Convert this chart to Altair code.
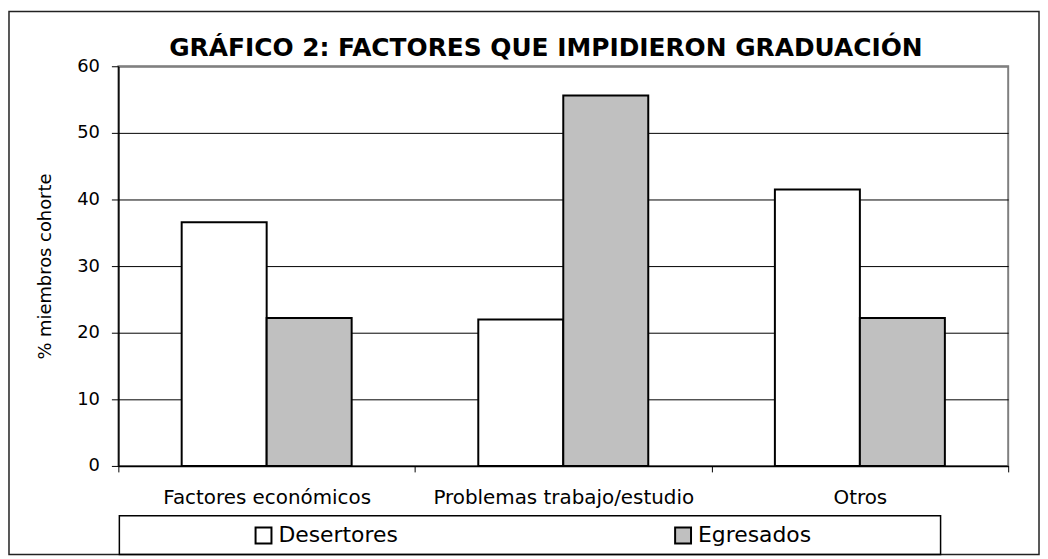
import altair as alt
import pandas as pd

categories = ["Factores económicos", "Problemas trabajo/estudio", "Otros"]
series = ["Desertores", "Egresados"]
desertores = [36.6, 22.0, 41.5]
egresados = [22.2, 55.6, 22.2]
colors = ["#FFFFFF", "#C0C0C0"]
y_ticks = [0, 10, 20, 30, 40, 50, 60]
title_text = "GRÁFICO 2: FACTORES QUE IMPIDIERON GRADUACIÓN"
y_title = "% miembros cohorte"

rows = []
for i, c in enumerate(categories):
    rows.append({"categoria": c, "grupo": series[0], "valor": desertores[i]})
    rows.append({"categoria": c, "grupo": series[1], "valor": egresados[i]})
df = pd.DataFrame(rows)

FONT = "DejaVu Sans"
W, H = 895, 402

bars = alt.Chart(df).mark_bar(stroke="black", strokeWidth=2).encode(
    x=alt.X(
        "categoria:N", sort=categories,
        scale=alt.Scale(paddingInner=0, paddingOuter=0),
        axis=alt.Axis(
            title=None, labelAngle=0, labelFont=FONT, labelFontSize=20, labelColor="black",
            labelLimit=0, labelBaseline="alphabetic", labelPadding=32, tickBand="extent",
            tickSize=6, tickColor="black", tickWidth=1, domainColor="black", domainWidth=1.5,
            grid=False,
        ),
    ),
    xOffset=alt.XOffset("grupo:N", sort=series,
                        scale=alt.Scale(paddingInner=0, paddingOuter=0.745)),
    y=alt.Y(
        "valor:Q", scale=alt.Scale(domain=[0, 60], nice=False),
        axis=alt.Axis(
            title=y_title, values=y_ticks, format="d",
            labelFont=FONT, labelFontSize=18, labelColor="black", labelPadding=12,
            tickSize=7, tickColor="black", tickWidth=1,
            domainColor="black", domainWidth=1.5,
            grid=True,
            gridColor={"condition": {"test": "datum.value === 60", "value": "#808080"}, "value": "black"},
            gridWidth={"condition": {"test": "datum.value === 60", "value": 2}, "value": 1},
            titleFont=FONT, titleFontSize=18, titleFontWeight="normal", titleColor="black",
            titleAngle=270, titleX=-68, titleY=201, titleAlign="center",
            titleBaseline="alphabetic",
        ),
    ),
    color=alt.Color(
        "grupo:N", sort=series,
        scale=alt.Scale(domain=series, range=colors),
        legend=alt.Legend(
            title=None, orient="none", legendX=135, legendY=461, direction="horizontal",
            columnPadding=274, symbolType="square", symbolSize=256,
            symbolStrokeColor="black", symbolStrokeWidth=2, symbolOpacity=1,
            labelFont=FONT, labelFontSize=22, labelColor="black", labelOffset=4,
            labelLimit=0, padding=0,
        ),
    ),
)

one = pd.DataFrame({"k": [0]})
title_df = pd.DataFrame({"t": [title_text]})

title_mark = alt.Chart(title_df).mark_text(
    font=FONT, fontSize=25, fontWeight="bold", color="black",
    align="center", baseline="alphabetic",
).encode(text="t:N", x=alt.value(430), y=alt.value(-10))

legend_box = alt.Chart(one).mark_rect(fillOpacity=0, stroke="black", strokeWidth=1.5).encode(
    x=alt.value(1), x2=alt.value(827), y=alt.value(452), y2=alt.value(491)
)
outer_box = alt.Chart(one).mark_rect(fillOpacity=0, stroke="#222222", strokeWidth=1.5).encode(
    x=alt.value(-110), x2=alt.value(926), y=alt.value(-55), y2=alt.value(491)
)

chart = alt.layer(outer_box, bars, legend_box, title_mark).properties(
    width=W, height=H,
    padding={"left": 111, "top": 57, "right": 32, "bottom": 90},
    autosize=alt.AutoSizeParams(type="none"),
    background="white",
).configure_view(stroke="#808080", strokeWidth=2)

chart.save("out.html", embed_options={"renderer": "svg", "actions": False})
